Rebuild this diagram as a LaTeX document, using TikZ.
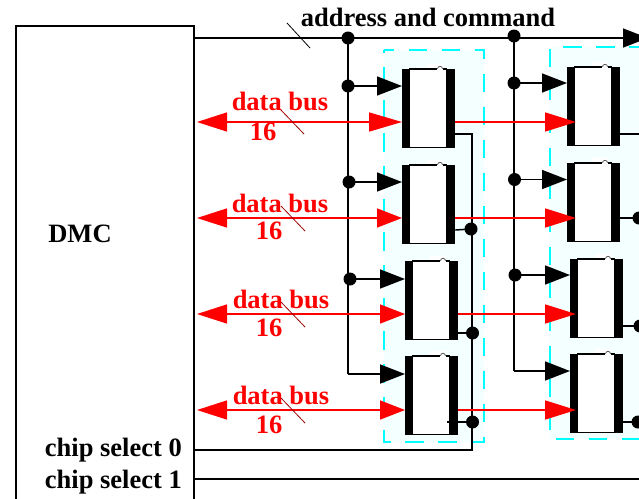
\documentclass[tikz,border=0pt]{standalone}
\usepackage{fontspec}
\setmainfont{Liberation Serif}
\usetikzlibrary{arrows.meta}
\definecolor{panel}{HTML}{F4FFFF}
\definecolor{slashred}{HTML}{A00000}
\definecolor{dashcyan}{HTML}{00FFFF}
\tikzset{
  x=1pt,y=-1pt,
  wire/.style={line width=1.5pt,draw=black},
  wirehead/.style={wire,-{Triangle[length=25pt,width=19pt]}},
  busboth/.style={line width=1.5pt,draw=red,{Triangle[length=30pt,width=19pt]}-{Triangle[length=25pt,width=19pt]}},
  buslong/.style={line width=1.5pt,draw=red,-{Triangle[length=31pt,width=19pt]}},
  dot/.style={circle,fill=black,inner sep=0pt,minimum size=13pt},
  slash/.style={line width=0.8pt,draw=black},
  redslash/.style={line width=0.8pt,draw=slashred},
  label/.style={font=\bfseries\fontsize{26.5}{26.5}\selectfont,inner sep=0pt},
  buslabel/.style={label,text=red},
  panelbox/.style={fill=panel,draw=none},
  paneldash/.style={draw=dashcyan,line width=1.6pt,dash pattern=on 18.5pt off 14.5pt,dash phase=8.5pt},
  chipbody/.style={draw=none,fill=white,inner sep=0pt,minimum width=53pt,minimum height=79pt,anchor=north west},
  band/.style={fill=black,draw=none},
}
\newcommand{\memchip}[3]{% name, x, y
  \node[chipbody] (#1) at (#2,#3) {};
  \fill[band] (#2,#3) rectangle ++(8,79);
  \fill[band] (#2+44,#3) rectangle ++(9,79);
  \fill[white] (#2+25,#3-5) rectangle ++(16,5);
  \draw[line width=1.4pt] (#2+7,#3-0.1) -- (#2+45,#3-0.1);
  \draw[line width=1.4pt] (#2+7,#3+78.2) -- (#2+45,#3+78.2);
  \fill[white] (#2+34.5,#3-1) rectangle ++(7,1.8);
  \fill[white,draw=black!65,line width=0.8pt] (#2+35.5,#3-0.2) arc[start angle=180,end angle=360,radius=2.5];
  \draw[line width=1.4pt] (#2+41,#3-0.1) -- (#2+45,#3-0.1);
}
\begin{document}
\begin{tikzpicture}
\useasboundingbox (0,0) rectangle (639,498);
\clip (0,0) rectangle (639,498);
\fill[white] (0,0) rectangle (639,498);
% panels
\fill[panelbox] (384,50) rectangle (484,442);
\draw[paneldash] (384,50) -- (484,50) -- (484,442) -- (384,442) -- (384,50);
\fill[panelbox] (550,47) rectangle (639,439);
\draw[paneldash] (639,47) -- (550,47) -- (550,439) -- (639,439);
% DMC
\node[draw=black,line width=1.5pt,fill=white,inner sep=0pt,minimum width=178pt,minimum height=500pt,anchor=north west] (dmc) at (15.25,25.25) {};
\node[label] (dmclabel) at (80,234) {DMC};
\node[label,anchor=east] (cs0label) at (182,450) {chip select 0};
\node[label,anchor=east] (cs1label) at (182,482) {chip select 1};
\node[label] (addrlabel) at (428,17) {address and command};
% named ends
\coordinate (aS) at (194,38);
\coordinate (aE) at (648,38);
\coordinate (cs0S) at (194,450);
\coordinate (cs1S) at (194,479);
\coordinate (cs1E) at (639,479);
\coordinate (csTop) at (472,134);
\coordinate (csBot) at (472,450);
\coordinate (rA) at (639,134);
% dots
\node[dot] (d0) at (348,38) {};
\node[dot] (d1) at (348,86) {};
\node[dot] (d2) at (349,182) {};
\node[dot] (d3) at (350,279) {};
\node[dot] (e0) at (514,36) {};
\node[dot] (e1) at (514,83) {};
\node[dot] (e2) at (514.5,179.5) {};
\node[dot] (e3) at (515,275) {};
\node[dot] (s2) at (471,229) {};
\node[dot] (s3) at (472.5,333) {};
\node[dot] (s4) at (472.5,422) {};
\node[dot] (t2) at (639,218) {};
\node[dot] (t3) at (640,326) {};
\node[dot] (t4) at (638,422) {};
% chips
\memchip{c1}{402}{69}
\memchip{c2}{402}{165}
\memchip{c3}{405}{261}
\memchip{c4}{405}{356}
\memchip{f1}{567}{67}
\memchip{f2}{567}{163}
\memchip{f3}{570}{259}
\memchip{f4}{570}{354}
% address
\draw[wirehead] (aS) -- (aE);
\draw[wire] (d0.center) -- (348,374);
\draw[wire] (e0.center) -- (514,371);
\draw[wirehead] (348,374) -- (c4.west |- 0,374);
\draw[wirehead] (514,371) -- (f4.west |- 0,371);
\draw[wirehead] (d1.center) -- (c1.west |- 0,86);
\draw[wirehead] (d2.center) -- (c2.west |- 0,182);
\draw[wirehead] (d3.center) -- (c3.west |- 0,279);
\draw[wirehead] (e1.center) -- (f1.west |- 0,83);
\draw[wirehead] (e2.center) -- (f2.west |- 0,179.5);
\draw[wirehead] (e3.center) -- (f3.west |- 0,275);
% chip select
\draw[wire] (cs0S) -- (csBot) -- (csTop) -- (c1.east |- 0,134);
\draw[wire] (cs1S) -- (cs1E);
\draw[wire] (c2.east |- 0,230) -- (s2.center);
\draw[wire] (c3.east |- 0,333) -- (s3.center);
\draw[wire] (447,422) -- (s4.center);
\draw[wire] (f1.east |- 0,134) -- (rA);
\draw[wire] (f2.east |- 0,218) -- (t2.center);
\draw[wire] (f3.east |- 0,326) -- (t3.center);
\draw[wire] (f4.east |- 0,422) -- (t4.center);
% data buses
\draw[busboth,{Triangle[length=30pt,width=19pt]}-{Triangle[length=33pt,width=19pt]}] (197,122) -- (c1.west |- 0,122);
\draw[busboth] (197,218) -- (c2.west |- 0,218);
\draw[busboth] (197,314) -- (c3.west |- 0,314);
\draw[busboth] (197,410) -- (c4.west |- 0,410);
\draw[buslong] (c1.east |- 0,122) -- (576,122);
\draw[buslong] (c2.east |- 0,218) -- (576,218);
\draw[buslong] (c3.east |- 0,314) -- (576,314);
\draw[buslong] (c4.east |- 0,410) -- (576,410);
% slashes
\draw[slash] (287,23) -- (310,48);
\draw[redslash] (280,109) -- (304,134);
\draw[redslash] (281,206) -- (305,231);
\draw[redslash] (281,302) -- (305,327);
\draw[redslash] (281,398) -- (305,423);
% labels
\node[buslabel] (b1) at (280,101) {data bus};
\node[buslabel] (n1) at (263,132) {16};
\node[buslabel] (b2) at (280,203) {data bus};
\node[buslabel] (n2) at (269,231) {16};
\node[buslabel] (b3) at (281,299) {data bus};
\node[buslabel] (n3) at (269,328) {16};
\node[buslabel] (b4) at (281,395) {data bus};
\node[buslabel] (n4) at (269,425) {16};
\end{tikzpicture}
\end{document}
